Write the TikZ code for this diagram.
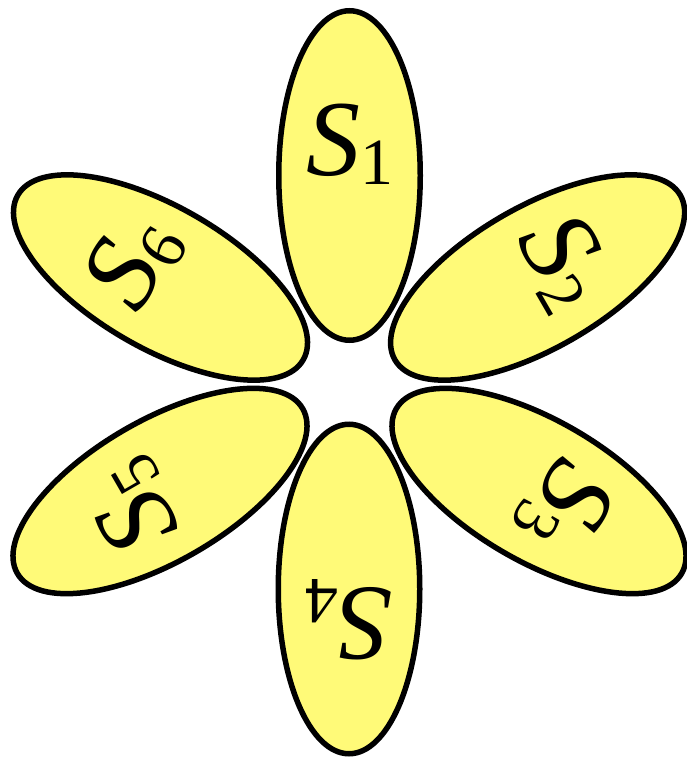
\documentclass[tikz,border=0pt]{standalone}
\usepackage{fontspec}
\setmainfont{Liberation Serif}[ItalicFont={Liberation Serif Italic}]
\newfontfamily\lblit{Liberation Serif Italic}
\usetikzlibrary{shapes.geometric}
\definecolor{petalfill}{RGB}{255,250,120}
\tikzset{
  petal/.style={ellipse, draw=black, line width=5.5pt, fill=petalfill,
    inner sep=0pt, minimum width=329.5pt, minimum height=141.5pt},
  lbl/.style={inner sep=0pt, text=black}
}
\newcommand{\petallabel}[1]{{\fontsize{108}{108}\lblit S}\raisebox{-9pt}{\fontsize{66}{66}\selectfont\rmfamily\upshape #1}}
\begin{document}
\begin{tikzpicture}[x=1pt,y=-1pt]
\useasboundingbox (0,0) rectangle (686,757);
\node[petal, rotate=90]  (p1) at (349.5,175.5) {};
\node[petal, rotate=30]  (p2) at (537.6,277.5) {};
\node[petal, rotate=-30] (p3) at (539,491) {};
\node[petal, rotate=90]  (p4) at (349,589) {};
\node[petal, rotate=30]  (p5) at (160,491) {};
\node[petal, rotate=-30] (p6) at (160.5,277.5) {};
\node[lbl, rotate=0]    (t1) at (349.5,144.5) {\petallabel{1}};
\node[lbl, rotate=-60]  (t2) at (564.4,262) {\petallabel{2}};
\node[lbl, rotate=-120] (t3) at (565.8,506.5) {\petallabel{3}};
\node[lbl, rotate=180]  (t4) at (349,620) {\petallabel{4}};
\node[lbl, rotate=120]  (t5) at (133.2,506.5) {\petallabel{5}};
\node[lbl, rotate=60]   (t6) at (133.7,262) {\petallabel{6}};
\end{tikzpicture}
\end{document}
